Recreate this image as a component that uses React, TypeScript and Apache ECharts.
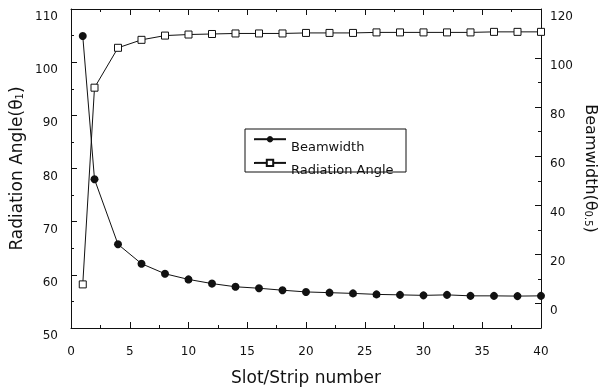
import React, { useEffect, useRef } from 'react';
import * as echarts from 'echarts';

const xValues = [1, 2, 4, 6, 8, 10, 12, 14, 16, 18, 20, 22, 24, 26, 28, 30, 32, 34, 36, 38, 40];
const beamwidth = [109, 50.6, 24.1, 16.2, 12.1, 9.8, 8.1, 6.8, 6.2, 5.4, 4.7, 4.4, 4.1, 3.7, 3.5, 3.3, 3.5, 3.1, 3.1, 3.0, 3.1];
const radiationAngle = [58.2, 95.2, 102.7, 104.2, 105.0, 105.2, 105.3, 105.4, 105.4, 105.4, 105.5, 105.5, 105.5, 105.6, 105.6, 105.6, 105.6, 105.6, 105.7, 105.7, 105.7];
const seriesNames = ['Beamwidth', 'Radiation Angle'];
const xTitle = 'Slot/Strip number';
const leftTitle = 'Radiation Angle(θ{sub|1})';
const rightTitle = 'Beamwidth(θ{sub|0.5})';

const INK = '#111';
const FONT = 'DejaVu Sans';

export default function App() {
  const ref = useRef<HTMLDivElement>(null);
  useEffect(() => {
    if (!ref.current) return;
    const chart = echarts.init(ref.current, undefined, { renderer: 'svg' });
    const line = { color: INK, width: 1 };
    const frameAxis = {
      axisLine: { show: true, onZero: false, lineStyle: line },
      axisTick: { show: true, inside: true, length: 6, lineStyle: line },
      minorTick: { show: true, splitNumber: 2, length: 3, lineStyle: line },
      splitLine: { show: false },
      minorSplitLine: { show: false },
    };
    const sub = { fontSize: 10, verticalAlign: 'bottom', fontFamily: FONT, color: INK, padding: [6, 0, 0, 0] };
    const subR = { fontSize: 10, verticalAlign: 'bottom', fontFamily: FONT, color: INK };
    const low = { fontSize: 12, fontFamily: FONT, color: INK, padding: [14, 0, 0, 0] };
    chart.setOption({
      animation: false,
      textStyle: { fontFamily: FONT, color: INK },
      grid: { left: 71, right: 57, top: 9, bottom: 60, containLabel: false, outerBoundsMode: 'none' },
      legend: {
        orient: 'vertical',
        left: 253,
        top: 136,
        padding: 0,
        itemGap: 6,
        itemWidth: 32,
        itemHeight: 8,
        formatter: (name: string) => `{p|${name}}`,
        textStyle: {
          fontSize: 13, color: INK, fontFamily: FONT,
          rich: { p: { fontSize: 13, fontFamily: FONT, color: INK, padding: [14, 0, 0, 0] } },
        },
        data: seriesNames,
      },
      graphic: [
        {
          type: 'rect',
          shape: { x: 245, y: 129, width: 161, height: 43 },
          style: { fill: 'none', stroke: INK, lineWidth: 1 },
        },
      ],
      xAxis: [
        {
          type: 'value', min: 0, max: 40, interval: 5, position: 'bottom',
          ...frameAxis,
          axisLabel: { fontSize: 12, margin: 17, color: INK, fontFamily: FONT },
          name: xTitle, nameLocation: 'middle', nameGap: 40,
          nameTextStyle: { fontSize: 17, color: INK, fontFamily: FONT },
        },
        {
          type: 'value', min: 0, max: 40, interval: 5, position: 'top',
          ...frameAxis,
          axisLabel: { show: false },
        },
      ],
      yAxis: [
        {
          type: 'value', min: 50, max: 110, interval: 10, position: 'left',
          ...frameAxis,
          axisLabel: {
            fontSize: 12, margin: 13, color: INK, fontFamily: FONT,
            formatter: (v: number) => `{p|${v}}`,
            rich: { p: low },
          },
          name: leftTitle, nameLocation: 'middle', nameGap: 42,
          nameTextStyle: { fontSize: 17, color: INK, fontFamily: FONT, rich: { sub } },
        },
        {
          type: 'value', min: -10, max: 120, splitNumber: 6, position: 'right',
          ...frameAxis,
          axisLabel: {
            fontSize: 12, margin: 9, color: INK, fontFamily: FONT,
            formatter: (v: number) => (v < 0 ? '' : `{p|${v}}`),
            rich: { p: low },
          },
          name: rightTitle, nameLocation: 'middle', nameGap: 27, nameRotate: -90,
          nameTextStyle: { fontSize: 16, color: INK, fontFamily: FONT, rich: { sub: subR } },
        },
      ],
      series: [
        {
          name: seriesNames[0], type: 'line', xAxisIndex: 0, yAxisIndex: 1,
          data: xValues.map((x, i) => [x, beamwidth[i]]),
          symbol: 'circle', symbolSize: 8,
          itemStyle: { color: INK },
          lineStyle: { color: INK, width: 1 },
          z: 3,
        },
        {
          name: seriesNames[1], type: 'line', xAxisIndex: 0, yAxisIndex: 0,
          data: xValues.map((x, i) => [x, radiationAngle[i]]),
          symbol: 'rect', symbolSize: 7,
          itemStyle: { color: '#fff', borderColor: INK, borderWidth: 1 },
          lineStyle: { color: INK, width: 1 },
          z: 4,
        },
      ],
    });
    return () => chart.dispose();
  }, []);
  return <div ref={ref} style={{ position: 'fixed', left: 0, top: 0, width: 598, height: 388 }} />;
}
